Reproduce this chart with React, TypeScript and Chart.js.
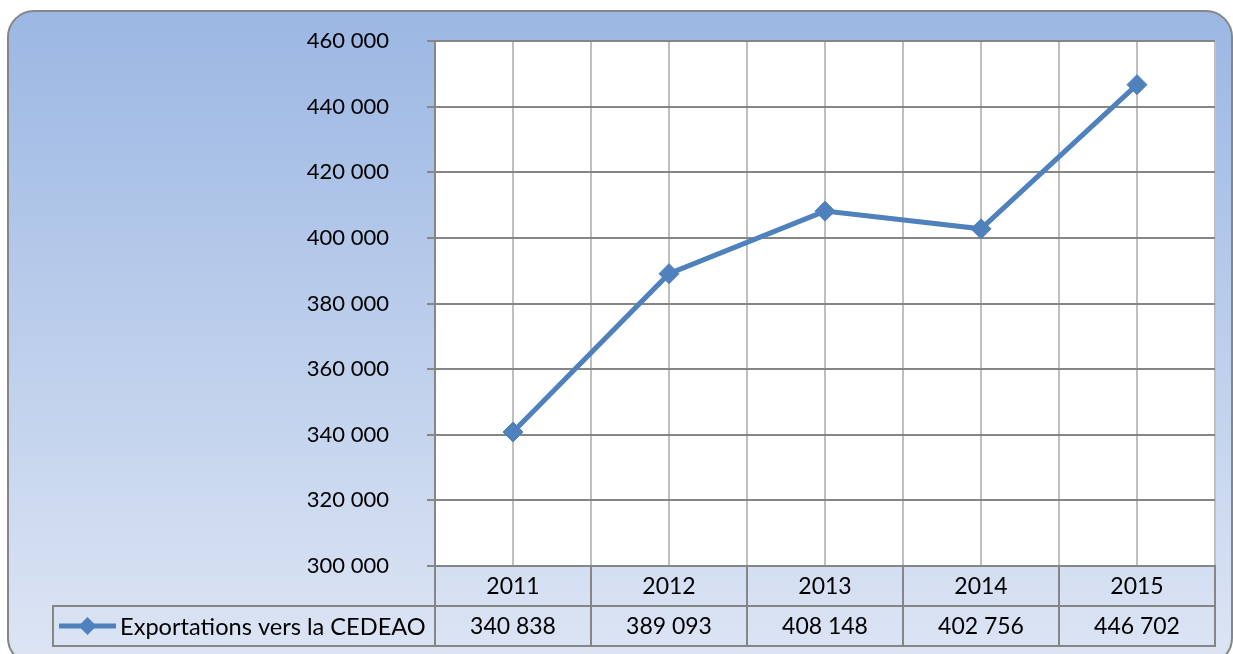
import React, { useEffect, useRef } from "react";
import { Chart, registerables } from "chart.js";

Chart.register(...registerables);

const categories: string[] = ["2011", "2012", "2013", "2014", "2015"];
const seriesLabel = "Exportations vers la CEDEAO";
const exportValues: number[] = [340838, 389093, 408148, 402756, 446702];
const yMin = 300000;
const yMax = 460000;
const yStep = 20000;

const FONT = "Lato, 'Open Sans', sans-serif";
const LINE_COLOR = "#4F81BD";
const GRID_DARK = "#868686";
const GRID_LIGHT = "#BFBFBF";

const fmt = (v: number) => String(Math.round(v)).replace(/\B(?=(\d{3})+(?!\d))/g, " ");

function drawDiamond(ctx: CanvasRenderingContext2D, x: number, y: number, r: number) {
  ctx.beginPath();
  ctx.moveTo(x, y - r);
  ctx.lineTo(x + r, y);
  ctx.lineTo(x, y + r);
  ctx.lineTo(x - r, y);
  ctx.closePath();
  ctx.fill();
}

const bgPlugin = {
  id: "bgPlugin",
  beforeDraw(chart: any) {
    const ctx: CanvasRenderingContext2D = chart.ctx;
    const W = chart.width;
    const H = chart.height;
    ctx.save();
    ctx.clearRect(0, 0, W, H);
    const x0 = 8, y0 = 11, x1 = 1232, y1 = 664, r = 26;
    const g = ctx.createLinearGradient(0, y0, 0, y1);
    g.addColorStop(0, "#9BB7E3");
    g.addColorStop(1, "#DDE5F4");
    ctx.beginPath();
    ctx.moveTo(x0 + r, y0);
    ctx.lineTo(x1 - r, y0);
    ctx.arcTo(x1, y0, x1, y0 + r, r);
    ctx.lineTo(x1, y1 - r);
    ctx.arcTo(x1, y1, x1 - r, y1, r);
    ctx.lineTo(x0 + r, y1);
    ctx.arcTo(x0, y1, x0, y1 - r, r);
    ctx.lineTo(x0, y0 + r);
    ctx.arcTo(x0, y0, x0 + r, y0, r);
    ctx.closePath();
    ctx.fillStyle = g;
    ctx.fill();
    ctx.strokeStyle = GRID_DARK;
    ctx.lineWidth = 2;
    ctx.stroke();
    const a = chart.chartArea;
    ctx.fillStyle = "#FFFFFF";
    ctx.fillRect(a.left, a.top, a.right - a.left, a.bottom - a.top);
    ctx.restore();
  },
  afterDraw(chart: any) {
    const ctx: CanvasRenderingContext2D = chart.ctx;
    const xs = chart.scales.x;
    const a = chart.chartArea;
    const rowH = 40;
    const top = a.bottom;
    const legendLeft = 53;
    const bounds = categories.map((_, i) => xs.getPixelForValue(i - 0.5));
    bounds.push(xs.getPixelForValue(categories.length - 0.5));
    ctx.save();
    ctx.strokeStyle = GRID_DARK;
    ctx.lineWidth = 2;
    ctx.strokeRect(bounds[0], top, bounds[bounds.length - 1] - bounds[0], rowH);
    ctx.strokeRect(legendLeft, top + rowH, bounds[bounds.length - 1] - legendLeft, rowH);
    ctx.beginPath();
    for (let i = 0; i < bounds.length; i++) {
      ctx.moveTo(bounds[i], top);
      ctx.lineTo(bounds[i], top + 2 * rowH);
    }
    ctx.stroke();
    ctx.fillStyle = "#000000";
    ctx.font = `23px ${FONT}`;
    ctx.textAlign = "center";
    ctx.textBaseline = "middle";
    categories.forEach((c, i) => {
      const cx = (bounds[i] + bounds[i + 1]) / 2;
      ctx.fillText(c, cx, top + rowH / 2 + 1);
      ctx.fillText(fmt(exportValues[i]), cx, top + rowH + rowH / 2 + 1);
    });
    const ly = top + rowH + rowH / 2;
    ctx.strokeStyle = LINE_COLOR;
    ctx.lineWidth = 5;
    ctx.beginPath();
    ctx.moveTo(59, ly);
    ctx.lineTo(116, ly);
    ctx.stroke();
    ctx.fillStyle = LINE_COLOR;
    drawDiamond(ctx, 87.5, ly, 9);
    ctx.fillStyle = "#000000";
    ctx.textAlign = "left";
    ctx.font = `23.6px ${FONT}`;
    ctx.fillText(seriesLabel, 120, ly + 1);
    ctx.restore();
  },
};

export default function App() {
  const ref = useRef<HTMLCanvasElement | null>(null);
  useEffect(() => {
    if (!ref.current) return;
    const chart = new Chart(ref.current, {
      type: "line",
      data: {
        datasets: [
          {
            label: seriesLabel,
            data: exportValues.map((v, i) => ({ x: i, y: v })),
            borderColor: LINE_COLOR,
            backgroundColor: LINE_COLOR,
            borderWidth: 5,
            pointStyle: "rectRot",
            pointRadius: 10,
            pointBorderWidth: 1,
            pointBackgroundColor: LINE_COLOR,
            pointBorderColor: LINE_COLOR,
            tension: 0,
          },
        ],
      },
      options: {
        responsive: false,
        animation: false,
        layout: { padding: { left: 0, top: 41, right: 18, bottom: 88 } },
        plugins: { legend: { display: false }, tooltip: { enabled: false }, title: { display: false } },
        scales: {
          x: {
            type: "linear",
            min: -0.5,
            max: categories.length - 0.5,
            ticks: { display: false, stepSize: 0.5 },
            grid: { color: GRID_LIGHT, lineWidth: 2, drawTicks: false },
            border: { display: false },
            afterFit: (s: any) => {
              s.height = 0;
              s.paddingLeft = 0;
              s.paddingRight = 0;
            },
          },
          y: {
            min: yMin,
            max: yMax,
            ticks: {
              stepSize: yStep,
              color: "#000000",
              font: { family: FONT, size: 22 },
              padding: 38,
              callback: (v: any) => fmt(Number(v)),
            },
            grid: { color: GRID_DARK, lineWidth: 2, tickLength: 8 },
            border: { display: true, color: GRID_DARK, width: 2 },
            afterFit: (s: any) => {
              s.width = 435;
              s.paddingTop = 0;
              s.paddingBottom = 0;
            },
          },
        },
      },
      plugins: [bgPlugin],
    });
    return () => chart.destroy();
  }, []);
  return (
    <div style={{ position: "absolute", left: 0, top: 0, width: 1233, height: 654 }}>
      <canvas ref={ref} width={1233} height={654} />
    </div>
  );
}
